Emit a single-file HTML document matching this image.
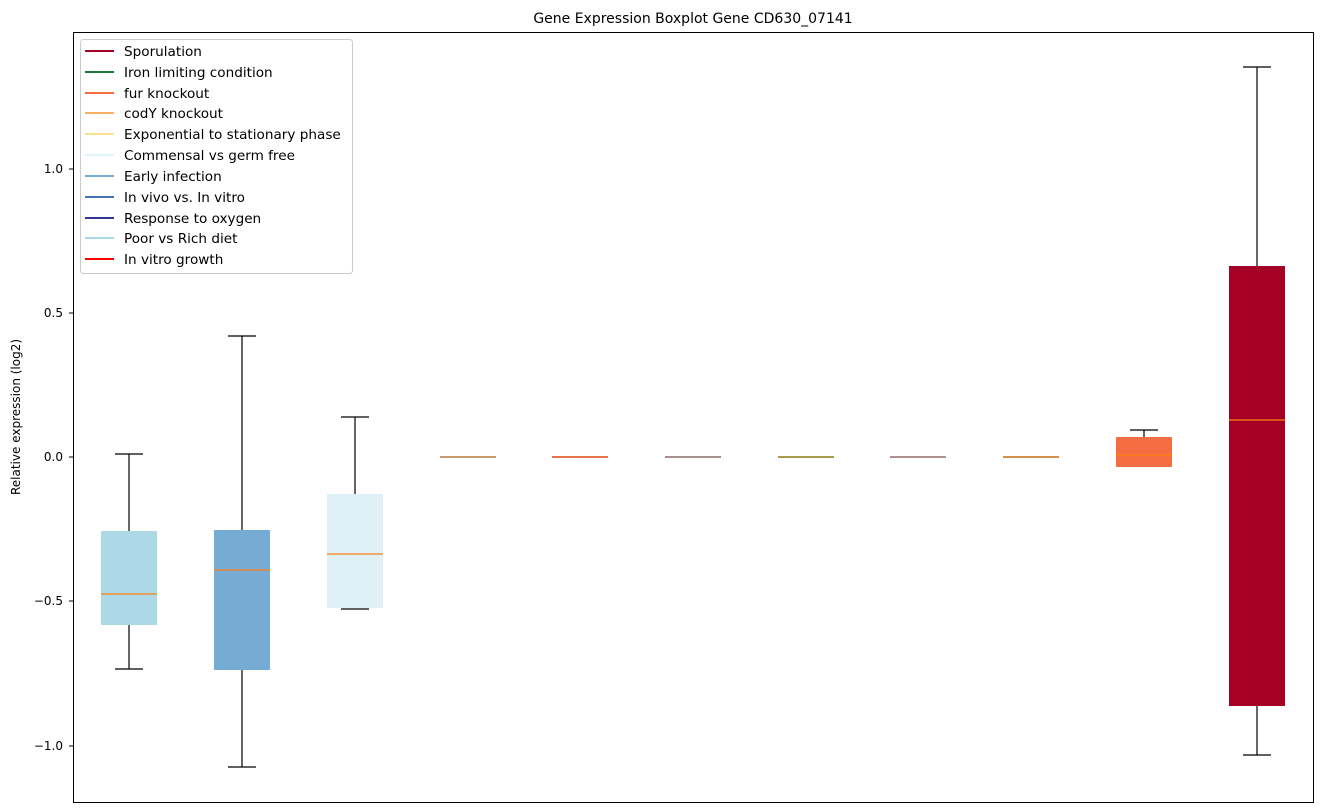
<!DOCTYPE html>
<html><head><style>body{margin:0;background:#fff}svg{display:block;font-family:"DejaVu Sans","Liberation Sans",sans-serif}</style></head><body>
<svg width="1322" height="812" xmlns="http://www.w3.org/2000/svg">
<rect width="1322" height="812" fill="#fff"/>
<text x="693" y="23" font-size="14" text-anchor="middle">Gene Expression Boxplot Gene CD630_07141</text>
<g font-size="12" text-anchor="end" fill="#000">
<text x="63" y="173">1.0</text><text x="63" y="317">0.5</text><text x="63" y="461">0.0</text><text x="63" y="605">−0.5</text><text x="63" y="750">−1.0</text>
</g>
<g stroke="#000"><line x1="69" y1="169" x2="73" y2="169"/><line x1="69" y1="313" x2="73" y2="313"/><line x1="69" y1="457" x2="73" y2="457"/><line x1="69" y1="601" x2="73" y2="601"/><line x1="69" y1="746" x2="73" y2="746"/></g>
<text transform="translate(20,417) rotate(-90)" font-size="12" text-anchor="middle">Relative expression (log2)</text>
<g stroke="#000" stroke-width="1.2">
<line x1="129" y1="454" x2="129" y2="531"/><line x1="129" y1="625" x2="129" y2="669"/><line x1="115" y1="454" x2="143" y2="454"/><line x1="115" y1="669" x2="143" y2="669"/>
<line x1="242" y1="336" x2="242" y2="530"/><line x1="242" y1="670" x2="242" y2="767"/><line x1="228" y1="336" x2="256" y2="336"/><line x1="228" y1="767" x2="256" y2="767"/>
<line x1="355" y1="417" x2="355" y2="494"/><line x1="341" y1="417" x2="369" y2="417"/><line x1="341" y1="609" x2="369" y2="609"/>
<line x1="1144" y1="430" x2="1144" y2="437"/><line x1="1130" y1="430" x2="1158" y2="430"/>
<line x1="1257" y1="67" x2="1257" y2="266"/><line x1="1257" y1="706" x2="1257" y2="755"/><line x1="1243" y1="67" x2="1271" y2="67"/><line x1="1243" y1="755" x2="1271" y2="755"/>
</g>
<rect x="101" y="531" width="56" height="94" fill="#add8e6"/>
<rect x="214" y="530" width="56" height="140" fill="#76acd3"/>
<rect x="327" y="494" width="56" height="114" fill="#dff1f7"/>
<rect x="1116" y="437" width="56" height="30" fill="#f46d43"/>
<rect x="1229" y="266" width="56" height="440" fill="#a50026"/>
<g stroke="#ff7f0e" stroke-width="1.2">
<line x1="101" y1="594" x2="157" y2="594"/><line x1="214" y1="570" x2="270" y2="570"/><line x1="327" y1="554" x2="383" y2="554"/>
<line x1="1116" y1="455" x2="1172" y2="455"/><line x1="1229" y1="420" x2="1285" y2="420"/>
</g>
<g stroke-width="2">
<line x1="440" y1="457" x2="496" y2="457" stroke="#c99a6a"/><line x1="552" y1="457" x2="608" y2="457" stroke="#e8744a"/>
<line x1="665" y1="457" x2="721" y2="457" stroke="#a89090"/><line x1="778" y1="457" x2="834" y2="457" stroke="#a89a50"/>
<line x1="890" y1="457" x2="946" y2="457" stroke="#b09090"/><line x1="1003" y1="457" x2="1059" y2="457" stroke="#d8904a"/>
</g>
<rect x="73.5" y="32.5" width="1240" height="770" fill="none" stroke="#000"/>
<rect x="80.5" y="39.5" width="272" height="234" rx="3" fill="#fff" stroke="#ccc"/>
<g stroke-width="2">
<line x1="85" y1="51" x2="114" y2="51" stroke="#a50026"/><line x1="85" y1="72" x2="114" y2="72" stroke="#1a7837"/>
<line x1="85" y1="93" x2="114" y2="93" stroke="#f46d43"/><line x1="85" y1="113" x2="114" y2="113" stroke="#fdae61"/>
<line x1="85" y1="134" x2="114" y2="134" stroke="#fee090"/><line x1="85" y1="155" x2="114" y2="155" stroke="#e0f3f8"/>
<line x1="85" y1="176" x2="114" y2="176" stroke="#74add1"/><line x1="85" y1="197" x2="114" y2="197" stroke="#4575b4"/>
<line x1="85" y1="218" x2="114" y2="218" stroke="#313695"/><line x1="85" y1="238" x2="114" y2="238" stroke="#abd9e9"/>
<line x1="85" y1="259" x2="114" y2="259" stroke="#ff0000"/>
</g>
<g font-size="13.6">
<text x="124" y="56">Sporulation</text><text x="124" y="77">Iron limiting condition</text><text x="124" y="98">fur knockout</text>
<text x="124" y="118">codY knockout</text><text x="124" y="139">Exponential to stationary phase</text><text x="124" y="160">Commensal vs germ free</text>
<text x="124" y="181">Early infection</text><text x="124" y="202">In vivo vs. In vitro</text><text x="124" y="223">Response to oxygen</text>
<text x="124" y="243">Poor vs Rich diet</text><text x="124" y="264">In vitro growth</text>
</g>
</svg>
</body></html>
